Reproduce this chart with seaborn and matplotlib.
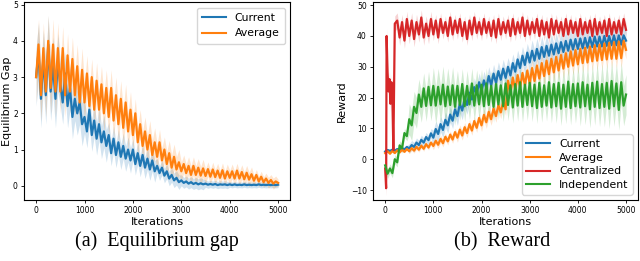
import matplotlib
matplotlib.use("Agg")
import matplotlib.pyplot as plt
import numpy as np
import seaborn as sns

# iterations (one sample every 50 iterations)
iters = np.arange(0, 5001, 50)

# ---- (a) Equilibrium gap ----
gap_current = [
    3.0, 3.7, 2.4, 3.5, 2.5, 3.9, 2.6, 3.3, 2.4, 3.4,
    2.8, 2.3, 3.1, 2.2, 2.7, 1.9, 2.4, 2.0, 2.3, 1.7,
    1.9, 1.5, 2.1, 1.4, 1.8, 1.3, 1.7, 1.2, 1.5, 1.1,
    1.4, 0.9, 1.3, 0.85, 1.2, 0.8, 1.1, 0.75, 1.0, 0.7,
    1.0, 0.6, 0.9, 0.55, 0.85, 0.5, 0.75, 0.45, 0.7, 0.4,
    0.55, 0.35, 0.5, 0.28, 0.4, 0.2, 0.3, 0.15, 0.22, 0.1,
    0.15, 0.08, 0.12, 0.06, 0.1, 0.05, 0.08, 0.04, 0.07, 0.04,
    0.06, 0.03, 0.05, 0.03, 0.05, 0.02, 0.04, 0.03, 0.04, 0.02,
    0.04, 0.02, 0.04, 0.02, 0.03, 0.02, 0.04, 0.02, 0.03, 0.02,
    0.03, 0.02, 0.04, 0.02, 0.03, 0.02, 0.03, 0.02, 0.03, 0.02,
    0.03]
# band half-widths read at iterations 0, 500, ..., 5000
gap_current_spread = [0.8, 0.6, 0.45, 0.35, 0.3, 0.2, 0.15, 0.1, 0.08, 0.08, 0.08]

gap_average = [
    3.0, 3.9, 2.5, 3.8, 2.6, 4.0, 2.7, 3.9, 2.6, 3.8,
    2.6, 3.8, 2.5, 3.6, 2.6, 3.5, 2.5, 3.3, 2.3, 3.2,
    2.3, 3.1, 2.2, 3.0, 2.1, 2.9, 2.1, 2.8, 2.0, 2.7,
    1.9, 2.7, 1.8, 2.5, 1.7, 2.4, 1.6, 2.3, 1.5, 2.1,
    1.4, 2.0, 1.2, 1.7, 1.1, 1.5, 1.0, 1.4, 0.85, 1.2,
    0.8, 1.2, 0.7, 1.0, 0.6, 0.9, 0.5, 0.8, 0.45, 0.65,
    0.4, 0.6, 0.35, 0.55, 0.3, 0.55, 0.3, 0.5, 0.28, 0.48,
    0.27, 0.46, 0.25, 0.45, 0.24, 0.42, 0.22, 0.43, 0.2, 0.4,
    0.22, 0.4, 0.2, 0.42, 0.2, 0.38, 0.18, 0.36, 0.17, 0.32,
    0.14, 0.3, 0.12, 0.25, 0.1, 0.2, 0.08, 0.16, 0.06, 0.12,
    0.08]
gap_average_spread = [0.7, 0.6, 0.5, 0.5, 0.4, 0.35, 0.25, 0.2, 0.2, 0.15, 0.1]

# ---- (b) Reward ----
rew_current = [
    2.5, 3.0, 2.7, 3.1, 2.8, 3.3, 3.0, 3.6, 3.2, 4.0,
    3.5, 4.6, 4.0, 5.4, 4.6, 6.3, 5.4, 7.2, 6.2, 8.4,
    7.0, 9.8, 8.2, 11.4, 9.5, 12.8, 11.0, 14.5, 12.5, 16.2,
    14.0, 18.0, 15.8, 19.8, 17.6, 21.6, 19.4, 23.4, 21.0, 25.0,
    22.0, 25.6, 23.0, 27.0, 24.0, 27.8, 24.8, 28.6, 25.8, 29.4,
    26.4, 30.0, 27.2, 31.2, 28.4, 32.4, 29.6, 33.6, 30.6, 34.6,
    31.4, 35.2, 32.0, 35.8, 32.6, 36.4, 33.2, 36.8, 33.6, 37.2,
    34.0, 37.6, 34.4, 38.0, 34.8, 38.4, 35.2, 38.8, 35.6, 39.0,
    35.8, 39.2, 36.0, 39.4, 36.2, 39.6, 36.4, 39.8, 36.6, 39.8,
    36.6, 40.0, 36.8, 40.0, 37.0, 40.2, 37.0, 40.2, 37.2, 40.2,
    38.5]
rew_current_spread = [0.5, 1.5, 2.5, 3.0, 3.0, 3.0, 3.5, 3.5, 3.5, 3.5, 3.5]

rew_average = [
    2.0, 2.6, 1.8, 2.7, 2.0, 2.9, 2.2, 3.1, 2.4, 3.3,
    2.6, 3.6, 2.8, 4.0, 3.1, 4.4, 3.4, 4.9, 3.8, 5.4,
    4.3, 6.0, 4.7, 6.6, 5.2, 7.3, 5.8, 8.0, 6.4, 8.8,
    7.0, 9.6, 7.7, 10.4, 8.5, 11.4, 9.3, 12.4, 10.2, 13.4,
    11.0, 14.4, 12.0, 15.4, 13.0, 16.5, 14.0, 17.6, 15.2, 18.8,
    16.2, 25.5, 21.5, 26.5, 22.5, 27.3, 23.2, 28.0, 24.0, 28.8,
    24.6, 29.6, 25.4, 30.4, 26.2, 31.2, 27.0, 32.0, 27.6, 32.6,
    28.2, 33.2, 28.8, 33.8, 29.4, 34.4, 30.0, 35.0, 30.4, 35.4,
    30.8, 35.8, 31.2, 36.2, 31.4, 36.6, 31.8, 37.0, 32.0, 37.2,
    32.2, 37.6, 32.4, 37.8, 32.6, 38.0, 32.6, 38.2, 32.8, 38.4,
    35.5]
rew_average_spread = [0.3, 0.8, 1.2, 1.5, 2.0, 2.0, 3.0, 3.0, 3.0, 3.0, 3.0]

# centralized has a finer grid over the first 200 iterations
cent_iters = np.r_[[0, 10, 20, 30, 50, 70, 90, 110, 130, 150, 170, 190, 200],
                   np.arange(250, 5001, 50)]
rew_centralized = [
    -3.0, -6.0, -9.4, 40.0, 28.0, 22.0, 26.0, 18.0, 25.0, 20.0, 3.0, 30.0, 44.0,
    45.0, 39.5, 44.5, 38.5, 45.5,
    40.0, 45.0, 39.0, 44.5, 40.5, 46.0, 39.5, 44.0, 40.0, 45.5,
    40.5, 45.0, 39.5, 45.5, 41.0, 44.5, 40.0, 46.0, 40.5, 45.0,
    41.0, 45.5, 40.0, 44.5, 39.0, 45.0, 40.5, 46.0, 41.0, 44.5,
    40.5, 45.5, 41.0, 44.5, 40.0, 45.0, 39.5, 45.5, 40.5, 44.5,
    41.0, 45.0, 40.0, 45.5, 40.5, 44.5, 41.0, 46.0, 40.0, 45.0,
    40.5, 44.5, 41.0, 45.5, 40.0, 45.0, 40.5, 44.5, 39.5, 45.5,
    40.5, 45.0, 41.0, 44.5, 40.0, 45.5, 40.5, 45.0, 41.0, 44.5,
    40.0, 45.5, 40.5, 44.5, 41.0, 45.0, 40.0, 45.5, 40.5, 44.5,
    41.0, 45.0, 40.0, 45.5, 40.5, 44.5, 41.0, 45.0, 40.5, 45.5,
    42.0]
rew_centralized_spread = [2.5, 2.5, 2.0, 2.0, 2.0, 2.0, 2.0, 2.0, 2.0, 2.0, 2.0]

rew_independent = [
    -2.0, -4.7, -3.0, -4.5, 0.0, -1.0, 4.5, 3.5, 8.5, 7.5,
    13.0, 11.0, 17.0, 15.0, 21.0, 17.0, 23.0, 17.3, 23.5, 17.5,
    23.8, 17.4, 23.5, 17.8, 24.2, 17.2, 23.6, 17.6, 24.0, 17.0,
    23.8, 17.6, 24.4, 17.2, 23.8, 17.8, 24.6, 17.4, 24.0, 17.8,
    24.2, 17.2, 24.6, 17.6, 23.8, 17.0, 24.4, 17.8, 24.0, 17.2,
    24.6, 17.6, 24.0, 16.8, 24.4, 17.4, 25.0, 17.0, 24.2, 17.6,
    24.8, 17.2, 24.2, 16.6, 24.8, 17.0, 24.0, 17.4, 25.0, 16.8,
    24.4, 17.2, 24.8, 16.4, 24.2, 17.0, 25.2, 16.6, 24.4, 17.2,
    24.6, 16.8, 25.0, 17.2, 24.2, 16.2, 24.8, 17.0, 25.2, 16.6,
    24.4, 17.0, 24.8, 16.4, 25.4, 17.2, 24.6, 16.0, 25.0, 17.4,
    21.0]
rew_independent_spread = [1.5, 5.0, 6.0, 5.0, 5.0, 5.0, 5.0, 5.5, 6.0, 6.5, 6.5]

colors = {'Current': '#1f77b4', 'Average': '#ff7f0e',
          'Centralized': '#d62728', 'Independent': '#2ca02c'}

plt.rcParams.update({'font.family': 'DejaVu Sans',
                     'xtick.labelsize': 5.5,
                     'ytick.labelsize': 5.5,
                     'axes.labelsize': 8,
                     'axes.linewidth': 0.8,
                     'xtick.major.size': 2.5,
                     'ytick.major.size': 2.5,
                     'xtick.major.width': 0.6,
                     'ytick.major.width': 0.6,
                     'xtick.major.pad': 2,
                     'ytick.major.pad': 2})

fig = plt.figure(figsize=(6.4, 2.61), dpi=100)
ax1 = fig.add_axes([0.0375, 0.234, 0.416, 0.758])
ax2 = fig.add_axes([0.583, 0.234, 0.414, 0.758])


def draw(ax, x, y, spread, name):
    x = np.asarray(x)
    y = np.asarray(y)
    w = np.asarray(spread)[np.minimum(x // 500, 10)]
    sns.lineplot(x=x, y=y, ax=ax, color=colors[name], linewidth=1.6,
                 label=name, errorbar=None)
    ax.fill_between(x, y - w, y + w, color=colors[name], alpha=0.2, lw=0)


draw(ax1, iters, gap_current, gap_current_spread, 'Current')
draw(ax1, iters, gap_average, gap_average_spread, 'Average')
ax1.set_xlim(-250, 5250)
ax1.set_ylim(-0.39, 5.07)
ax1.set_xticks([0, 1000, 2000, 3000, 4000, 5000])
ax1.set_yticks([0, 1, 2, 3, 4, 5])
ax1.set_xlabel('Iterations', labelpad=1)
ax1.set_ylabel('Equilibrium Gap', labelpad=0.5)
ax1.legend(loc='upper right', fontsize=7.8, handlelength=2.2, borderpad=0.5)

draw(ax2, iters, rew_current, rew_current_spread, 'Current')
draw(ax2, iters, rew_average, rew_average_spread, 'Average')
draw(ax2, cent_iters, rew_centralized, rew_centralized_spread, 'Centralized')
draw(ax2, iters, rew_independent, rew_independent_spread, 'Independent')
ax2.set_xlim(-250, 5250)
ax2.set_ylim(-13.2, 51.0)
ax2.set_xticks([0, 1000, 2000, 3000, 4000, 5000])
ax2.set_yticks([-10, 0, 10, 20, 30, 40, 50])
ax2.set_xlabel('Iterations', labelpad=1)
ax2.set_ylabel('Reward', labelpad=3)
ax2.legend(loc='lower right', fontsize=7.8, handlelength=2.2, borderpad=0.4,
           labelspacing=0.35)

for ax in (ax1, ax2):
    for leg_line in ax.get_legend().get_lines():
        leg_line.set_linewidth(1.5)

fig.text(0.245, 0.075, '(a)  Equilibrium gap', ha='center', va='center',
         family='Liberation Serif', fontsize=14.5)
fig.text(0.785, 0.075, '(b)  Reward', ha='center', va='center',
         family='Liberation Serif', fontsize=14.5)

fig.savefig('out.png', dpi=100)
